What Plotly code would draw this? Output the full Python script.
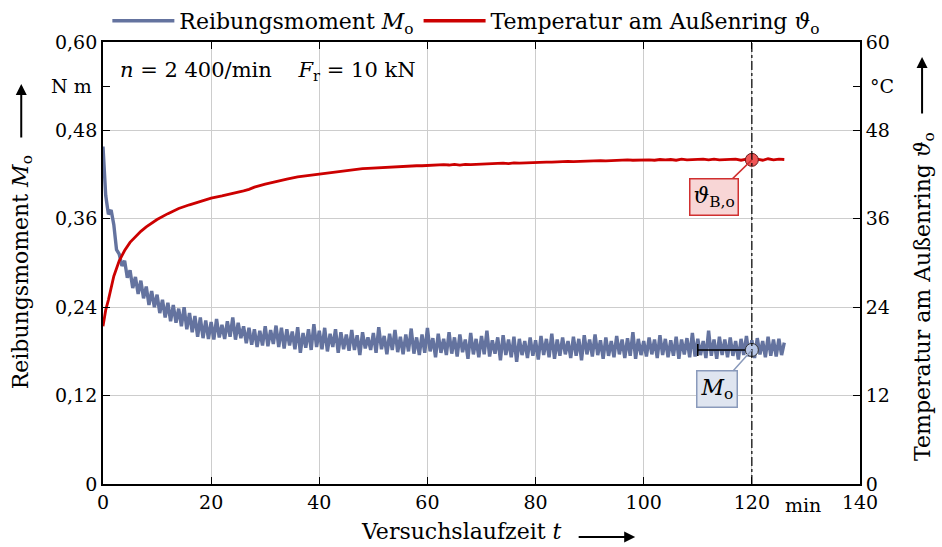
import numpy as np
import plotly.graph_objects as go

# ---------------- data ----------------
t_step = 0.5  # sampling of the friction torque trace in min
torque = [
    0.458, 0.392, 0.366, 0.372, 0.352, 0.318, 0.312, 0.296, 0.303, 0.280,
    0.290, 0.266, 0.281, 0.258, 0.276, 0.252, 0.268, 0.243, 0.262, 0.240,
    0.257, 0.232, 0.250, 0.226, 0.246, 0.221, 0.243, 0.219, 0.238, 0.214,
    0.240, 0.210, 0.232, 0.206, 0.228, 0.200, 0.226, 0.198, 0.222, 0.197,
    0.220, 0.196, 0.224, 0.199, 0.216, 0.197, 0.221, 0.200, 0.226, 0.196,
    0.219, 0.198, 0.214, 0.191, 0.212, 0.189, 0.210, 0.186, 0.208, 0.188,
    0.214, 0.187, 0.209, 0.190, 0.215, 0.186, 0.212, 0.184, 0.210, 0.188,
    0.207, 0.183, 0.213, 0.178, 0.205, 0.185, 0.210, 0.182, 0.217, 0.186,
    0.208, 0.183, 0.212, 0.180, 0.204, 0.186, 0.210, 0.178, 0.206, 0.183,
    0.203, 0.181, 0.209, 0.182, 0.202, 0.175, 0.206, 0.184, 0.199, 0.182,
    0.205, 0.178, 0.213, 0.183, 0.201, 0.176, 0.204, 0.182, 0.209, 0.179,
    0.200, 0.176, 0.203, 0.180, 0.211, 0.177, 0.199, 0.175, 0.203, 0.178,
    0.212, 0.180, 0.198, 0.172, 0.204, 0.178, 0.197, 0.175, 0.206, 0.177,
    0.199, 0.173, 0.203, 0.179, 0.196, 0.170, 0.205, 0.176, 0.197, 0.172,
    0.201, 0.176, 0.208, 0.173, 0.195, 0.177, 0.199, 0.168, 0.202, 0.175,
    0.196, 0.172, 0.200, 0.166, 0.197, 0.175, 0.194, 0.171, 0.199, 0.174,
    0.195, 0.169, 0.201, 0.175, 0.197, 0.172, 0.204, 0.170, 0.196, 0.174,
    0.199, 0.176, 0.194, 0.171, 0.200, 0.174, 0.197, 0.168, 0.202, 0.176,
    0.196, 0.173, 0.203, 0.175, 0.195, 0.170, 0.199, 0.174, 0.194, 0.172,
    0.201, 0.176, 0.196, 0.171, 0.198, 0.174, 0.206, 0.170, 0.197, 0.175,
    0.194, 0.173, 0.199, 0.176, 0.196, 0.171, 0.202, 0.175, 0.197, 0.172,
    0.195, 0.174, 0.200, 0.170, 0.196, 0.176, 0.198, 0.172, 0.205, 0.173,
    0.197, 0.175, 0.194, 0.171, 0.208, 0.174, 0.196, 0.170, 0.200, 0.175,
    0.196, 0.172, 0.199, 0.174, 0.194, 0.169, 0.197, 0.175, 0.201, 0.173,
    0.195, 0.171, 0.198, 0.176, 0.194, 0.172, 0.200, 0.174, 0.196, 0.173,
    0.197, 0.175, 0.192,
]
t_torque = np.arange(len(torque)) * t_step

temp_t = [0, 0.25, 0.5, 1, 1.5, 2, 3, 4, 5, 6, 7, 8, 10, 12, 14, 16, 18, 20,
          22, 24, 26, 27, 28, 30, 32, 34, 36, 38, 40,
          41, 42, 43, 44, 45, 46, 47, 48, 49, 50,
          51, 52, 53, 54, 55, 56, 57, 58, 59, 60,
          61, 62, 63, 64, 65, 66, 67, 68, 69, 70,
          71, 72, 73, 74, 75, 76, 77, 78, 79, 80,
          81, 82, 83, 84, 85, 86, 87, 88, 89, 90,
          91, 92, 93, 94, 95, 96, 97, 98, 99, 100,
          101, 102, 103, 104, 105, 106, 107, 108, 109, 110,
          111, 112, 113, 114, 115, 116, 117, 118, 119, 120,
          121, 122, 123, 124, 125, 126]
temp = [21.4, 22.6, 23.6, 25.0, 26.8, 28.2, 30.3, 31.7, 32.8, 33.6, 34.3, 34.9,
        35.9, 36.7, 37.4, 37.9, 38.4, 38.8, 39.1, 39.4, 39.8, 40.0, 40.3, 40.7,
        41.1, 41.4, 41.7, 41.9, 42.1,
        42.2, 42.3, 42.4, 42.5, 42.55, 42.65, 42.7, 42.8, 42.85, 42.9,
        42.95, 43.0, 43.0, 43.05, 43.1, 43.1, 43.15, 43.2, 43.2, 43.25,
        43.3, 43.25, 43.35, 43.3, 43.4, 43.3, 43.4, 43.35, 43.4, 43.45,
        43.45, 43.5, 43.5, 43.55, 43.5, 43.6, 43.55, 43.6, 43.65, 43.6,
        43.65, 43.7, 43.7, 43.75, 43.7, 43.8, 43.75, 43.8, 43.85, 43.8,
        43.85, 43.9, 43.85, 43.9, 43.95, 43.9, 44.0, 43.95, 44.0, 43.95,
        44.0, 43.95, 44.05, 44.0, 44.05, 43.95, 44.1, 44.0, 44.05, 44.0,
        44.1, 44.0, 44.1, 44.0, 44.05, 44.0, 44.1, 43.95, 44.1, 44.0,
        44.1, 43.95, 44.15, 44.0, 44.1, 44.05]

t_eval = 120          # evaluation time (min)
t_avg_start = 110     # start of averaging window (min)
M_o_mean = 0.182      # Nm
theta_Bo = 44.0       # °C

x_ticks = [0, 20, 40, 60, 80, 100, 120, 140]
x_ticktext = ["0", "20", "40", "60", "80", "100", "120", "140"]
y1_ticks = [0, 0.12, 0.24, 0.36, 0.48, 0.60]
y1_ticktext = ["0", "0,12", "0,24", "0,36", "0,48", "0,60"]
y2_ticks = [0, 12, 24, 36, 48, 60]
y2_ticktext = ["0", "12", "24", "36", "48", "60"]
x_unit_pos, y1_unit_pos, y2_unit_pos = 129.5, 0.54, 54

# ---------------- style ----------------
BLUE = "#64739f"
RED = "#cc0000"
FONT = "DejaVu Serif, Liberation Serif, serif"
GRID = "#cdcdcd"
TS = 19   # tick font size
LS = 22   # label font size

fig = go.Figure()
fig.add_trace(go.Scatter(x=t_torque, y=torque, mode="lines",
                         line=dict(color=BLUE, width=3.4), showlegend=False,
                         yaxis="y", hoverinfo="skip"))
fig.add_trace(go.Scatter(x=temp_t, y=temp, mode="lines",
                         line=dict(color=RED, width=2.8), showlegend=False,
                         yaxis="y2", hoverinfo="skip"))
# evaluation markers
fig.add_trace(go.Scatter(x=[t_eval], y=[M_o_mean], mode="markers", yaxis="y",
                         marker=dict(size=13, color="#b7c6e6",
                                     line=dict(color="#333333", width=1)),
                         error_x=dict(type="data", symmetric=False, array=[0],
                                      arrayminus=[t_eval - t_avg_start],
                                      color="black", thickness=1.6, width=6),
                         showlegend=False))
fig.add_trace(go.Scatter(x=[t_eval], y=[theta_Bo], mode="markers", yaxis="y2",
                         marker=dict(size=13, color="#ef5656",
                                     line=dict(color="#6a1a1a", width=1)),
                         showlegend=False))
# legend entries
fig.add_trace(go.Scatter(x=[None], y=[None], mode="lines",
                         line=dict(color=BLUE, width=3.5),
                         name="Reibungsmoment <i>M</i><sub>o</sub>"))
fig.add_trace(go.Scatter(x=[None], y=[None], mode="lines",
                         line=dict(color=RED, width=3.5),
                         name="Temperatur am Außenring <i>ϑ</i><sub>o</sub>"))

fig.add_shape(type="line", x0=t_eval, x1=t_eval, y0=0, y1=1, xref="x",
              yref="paper", line=dict(color="black", width=1.2, dash="dashdot"))

tickfont = dict(family=FONT, size=TS, color="black")
fig.update_layout(
    width=942, height=547, autosize=False,
    margin=dict(l=103, r=82, t=42, b=63, autoexpand=False),
    paper_bgcolor="white", plot_bgcolor="white",
    font=dict(family=FONT, size=LS, color="black"),
    legend=dict(orientation="h", x=0.48, xanchor="center", y=1.0,
                yanchor="bottom", font=dict(family=FONT, size=LS),
                bgcolor="rgba(0,0,0,0)", itemwidth=62, tracegroupgap=0),
    xaxis=dict(range=[0, 140], tickmode="array", tickvals=x_ticks,
               ticktext=x_ticktext, ticks="inside", ticklen=7,
               tickcolor="black", tickwidth=1.3, showline=True,
               linecolor="black", linewidth=1.8, mirror="ticks",
               showgrid=True, gridcolor=GRID, gridwidth=1.3,
               zeroline=False, tickfont=tickfont),
    yaxis=dict(range=[0, 0.6], tickmode="array", tickvals=y1_ticks,
               ticktext=y1_ticktext, ticks="inside", ticklen=7,
               tickcolor="black", tickwidth=1.3, showline=True,
               linecolor="black", linewidth=1.8, showgrid=True,
               gridcolor=GRID, gridwidth=1.3, zeroline=False,
               tickfont=tickfont,
               minor=dict(tickmode="array", tickvals=[y1_unit_pos],
                          ticks="inside", ticklen=7, tickcolor="black",
                          showgrid=False)),
    yaxis2=dict(range=[0, 60], overlaying="y", side="right", tickmode="array",
                tickvals=y2_ticks, ticktext=y2_ticktext, ticks="inside",
                ticklen=7, tickcolor="black", tickwidth=1.3, showline=True,
                linecolor="black", linewidth=1.8, showgrid=False,
                zeroline=False, tickfont=tickfont,
                minor=dict(tickmode="array", tickvals=[y2_unit_pos],
                           ticks="inside", ticklen=7, tickcolor="black",
                           showgrid=False)),
)

ann = []
# units
ann.append(dict(x=0, xref="paper", y=y1_unit_pos, yref="y", text="N m",
                showarrow=False, xanchor="right", xshift=-9,
                font=dict(family=FONT, size=TS)))
ann.append(dict(x=1, xref="paper", y=y2_unit_pos, yref="y2", text="°C",
                showarrow=False, xanchor="left", xshift=8,
                font=dict(family=FONT, size=TS)))
ann.append(dict(x=x_unit_pos, xref="x", y=0, yref="paper", text="min",
                showarrow=False, yanchor="top", yshift=-8,
                font=dict(family=FONT, size=TS)))
# operating conditions
ann.append(dict(x=0.02, xref="paper", y=0.935, yref="paper",
                text="<i>n</i> = 2 400/min    <i>F</i><sub>r</sub> = 10 kN",
                showarrow=False, xanchor="left", yanchor="middle",
                font=dict(family=FONT, size=21)))
# axis titles
ann.append(dict(x=-0.107, xref="paper", y=0.479, yref="paper",
                text="Reibungsmoment <i>M</i><sub>o</sub>", textangle=-90,
                showarrow=False, xanchor="center", yanchor="middle",
                font=dict(family=FONT, size=LS)))
ann.append(dict(x=1.085, xref="paper", y=0.424, yref="paper",
                text="Temperatur am Außenring <i>ϑ</i><sub>o</sub>",
                textangle=-90, showarrow=False, xanchor="center",
                yanchor="middle", font=dict(family=FONT, size=LS)))
ann.append(dict(x=0.473, xref="paper", y=-0.107, yref="paper",
                text="Versuchslaufzeit <i>t</i>", showarrow=False,
                xanchor="center", yanchor="middle",
                font=dict(family=FONT, size=LS)))
# axis arrows
ann.append(dict(x=-0.108, xref="paper", y=0.905, yref="paper", text="",
                showarrow=True, ax=0, ay=55, arrowhead=2, arrowsize=1.1,
                arrowwidth=2, arrowcolor="black"))
ann.append(dict(x=1.082, xref="paper", y=0.966, yref="paper", text="",
                showarrow=True, ax=0, ay=58, arrowhead=2, arrowsize=1.1,
                arrowwidth=2, arrowcolor="black"))
ann.append(dict(x=0.703, xref="paper", y=-0.12, yref="paper", text="",
                showarrow=True, ax=-58, ay=0, arrowhead=2, arrowsize=1.1,
                arrowwidth=2, arrowcolor="black"))
# call-outs
ann.append(dict(x=t_eval, xref="x", y=theta_Bo, yref="y2",
                text="<i>ϑ</i><sub>B,o</sub>", showarrow=True, ax=-38, ay=37,
                arrowhead=0, arrowwidth=1.5, arrowcolor="#d03030",
                bgcolor="#f8d6d6", bordercolor="#d03030", borderwidth=1.5,
                borderpad=3, font=dict(family=FONT, size=LS)))
ann.append(dict(x=t_eval, xref="x", y=M_o_mean, yref="y",
                text="<i>M</i><sub>o</sub>", showarrow=True, ax=-35, ay=39,
                arrowhead=0, arrowwidth=1.5, arrowcolor="#8a9abb",
                bgcolor="#dfe5f0", bordercolor="#8a9abb", borderwidth=1.5,
                borderpad=3, font=dict(family=FONT, size=LS)))
fig.update_layout(annotations=ann)

fig.write_html("out.html")
